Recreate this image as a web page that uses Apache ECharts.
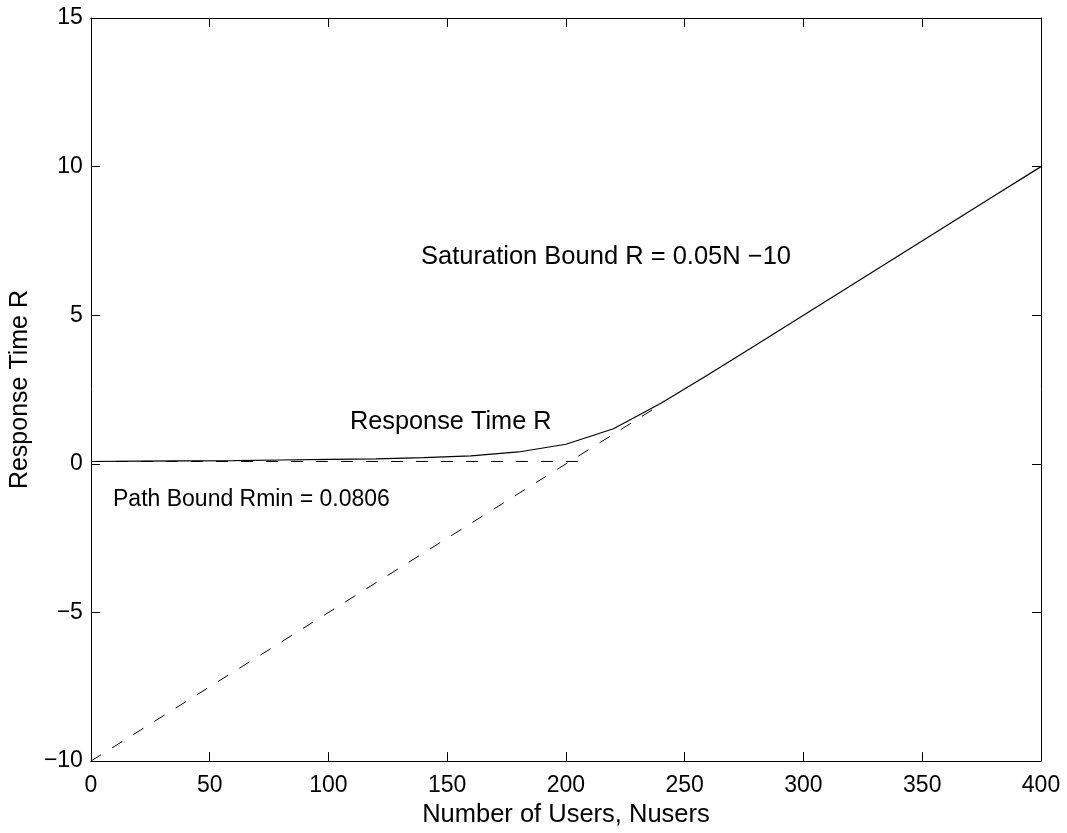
<!DOCTYPE html>
<html>
<head>
<meta charset="utf-8">
<script src="https://cdn.jsdelivr.net/npm/echarts@6/dist/echarts.min.js"></script>
<style>
  html, body { margin: 0; padding: 0; background: #fff; }
  #graph { width: 1067px; height: 833px; }
</style>
</head>
<body>
<div id="graph"></div>
<script>
// number of users, sampled every 20
const users = [0, 20, 40, 60, 80, 100, 120, 140, 160, 180, 200,
  220, 240, 260, 280, 300, 320, 340, 360, 380, 400]
// response time
const responseTime = [0.08, 0.09, 0.10, 0.11, 0.13, 0.15, 0.17, 0.21, 0.27, 0.40, 0.66,
  1.18, 2.04, 3.01, 4.0, 5.0, 6.0, 7.0, 8.0, 9.0, 10.0]
// bounds (end points of the dashed lines)
const pathBound = [[0, 0.0806], [210, 0.0806]]
const saturationBound = [[0, -10], [240, 2]]

const font = 'Liberation Sans, Arial, Helvetica, sans-serif'
const fs = 23
const fsBig = 25
const minus = v => String(v).replace('-', '\u2212')

const dom = document.getElementById('graph')
const chart = echarts.init(dom, null, { renderer: 'canvas' })

const axisCommon = {
  axisLine: { show: true, onZero: false, lineStyle: { color: '#000', width: 1 } },
  axisTick: { show: true, inside: true, length: 9, lineStyle: { color: '#000', width: 1 } },
  splitLine: { show: false }
}

const option = {
  animation: false,
  backgroundColor: '#fff',
  textStyle: { fontFamily: font },
  // fixed height so the frame does not depend on the viewport height
  grid: { left: 89, right: 26, top: 18, height: 750, containLabel: false },
  xAxis: [
    {
      type: 'value', min: 0, max: 400, interval: 50, position: 'bottom',
      name: 'Number of Users, Nusers', nameLocation: 'middle', nameGap: 38,
      nameTextStyle: { color: '#000', fontSize: 25.5, fontFamily: font, lineHeight: 26 },
      axisLabel: { color: '#000', fontSize: fs, fontFamily: font, margin: 13, lineHeight: 23 },
      ...axisCommon
    },
    {
      type: 'value', min: 0, max: 400, interval: 50, position: 'top',
      axisLabel: { show: false },
      ...axisCommon
    }
  ],
  yAxis: [
    {
      type: 'value', min: -10, max: 15, interval: 5, position: 'left',
      name: 'Response Time R', nameLocation: 'middle', nameGap: 56, nameRotate: 90,
      nameTextStyle: { color: '#000', fontSize: fsBig, fontFamily: font, lineHeight: 25 },
      axisLabel: { color: '#000', fontSize: fs, fontFamily: font, margin: 8, formatter: minus },
      ...axisCommon
    },
    {
      type: 'value', min: -10, max: 15, interval: 5, position: 'right',
      axisLabel: { show: false },
      ...axisCommon
    }
  ],
  series: [
    {
      name: 'Response Time R',
      type: 'line',
      data: users.map((n, i) => [n, responseTime[i]]),
      showSymbol: false,
      lineStyle: { color: '#000', width: 1.2 },
      z: 3
    },
    {
      name: 'Path Bound',
      type: 'line',
      data: pathBound,
      showSymbol: false,
      lineStyle: { color: '#000', width: 1, type: [12, 13] }
    },
    {
      name: 'Saturation Bound',
      type: 'line',
      data: saturationBound,
      showSymbol: false,
      lineStyle: { color: '#000', width: 1, type: [12, 13] }
    }
  ],
  graphic: [
    { type: 'text', left: 421, top: 244, style: { text: 'Saturation Bound R = 0.05N \u221210', fill: '#000', font: '25.5px ' + font } },
    { type: 'text', left: 350, top: 410, style: { text: 'Response Time R', fill: '#000', font: '25.3px ' + font } },
    { type: 'text', left: 113, top: 488, style: { text: 'Path Bound Rmin = 0.0806', fill: '#000', font: fs + 'px ' + font } }
  ]
}

chart.setOption(option)
</script>
</body>
</html>
